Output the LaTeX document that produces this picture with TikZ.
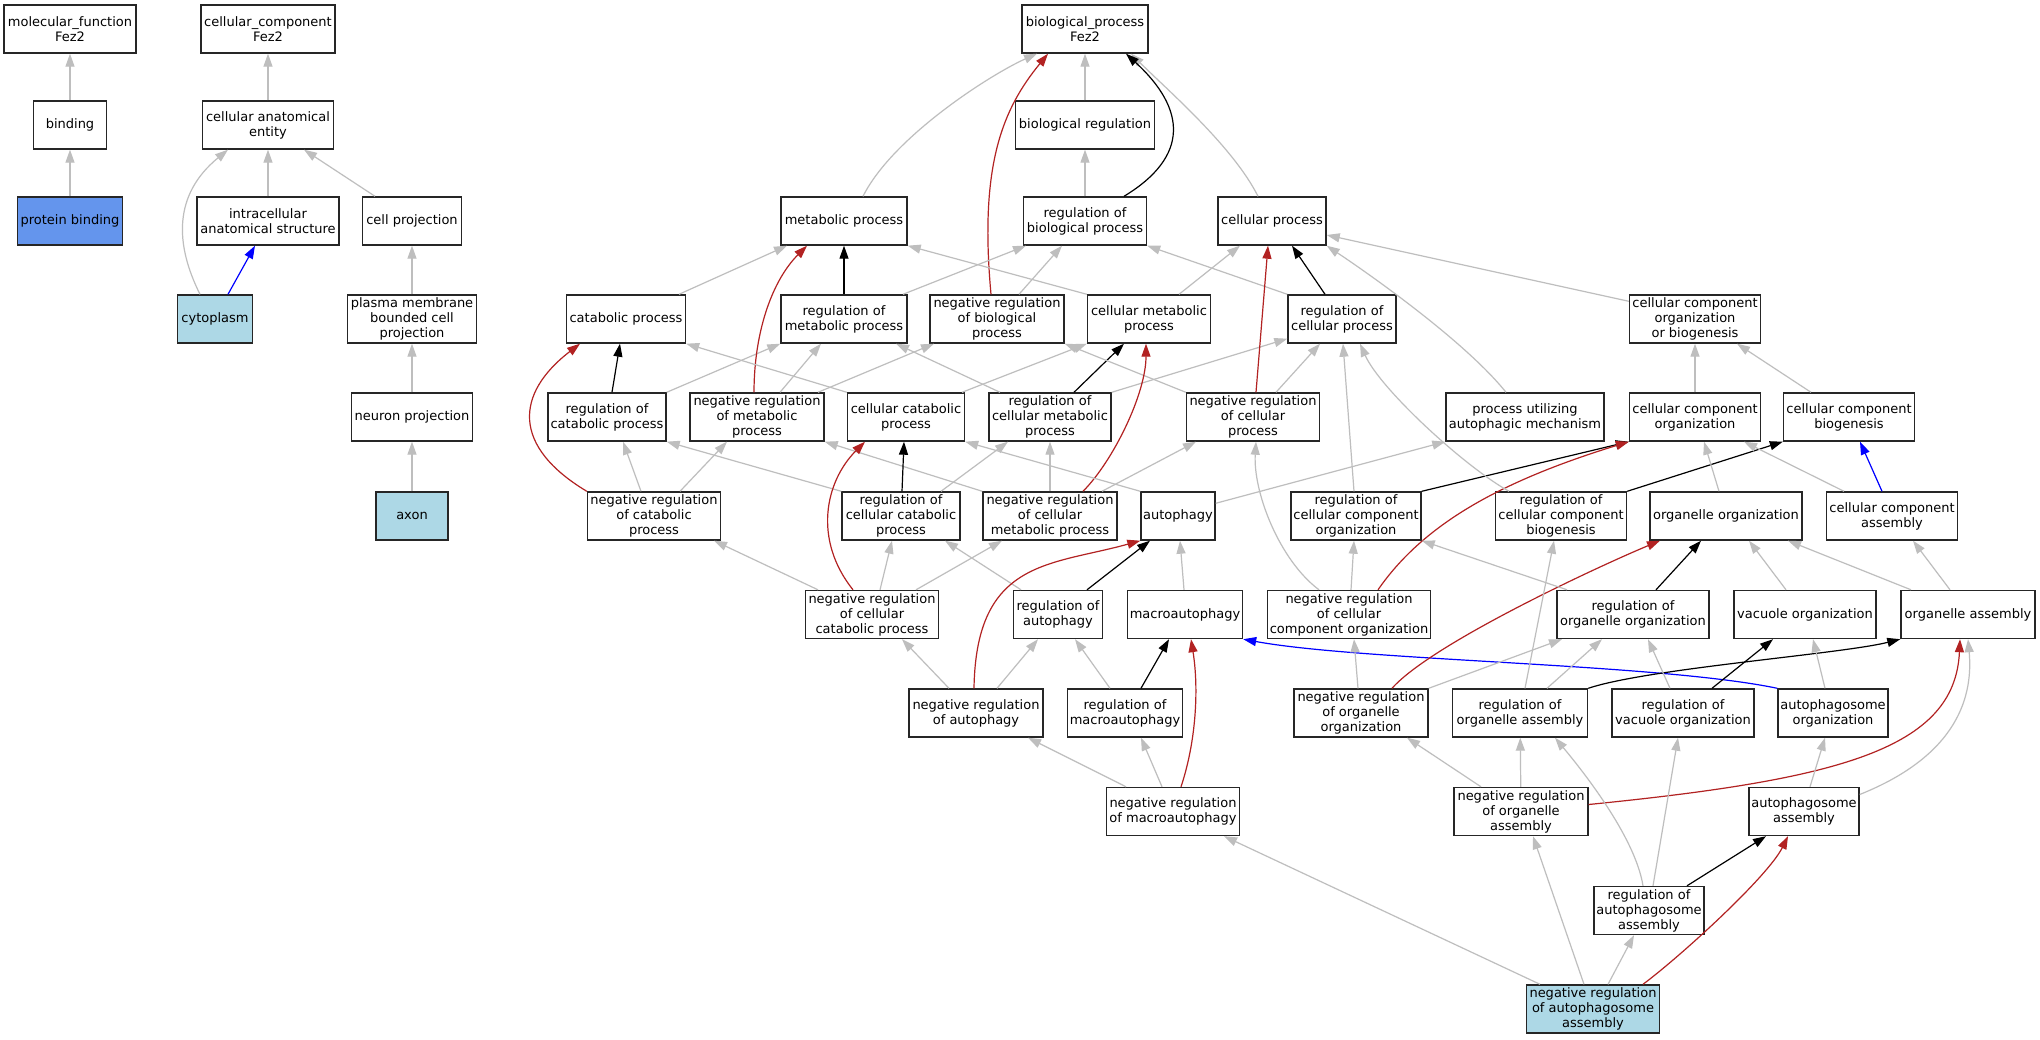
\documentclass[tikz,border=0pt]{standalone}
\usepackage{fontspec}
\setmainfont{DejaVu Sans}
\usetikzlibrary{arrows.meta}
\definecolor{hitblue}{HTML}{ADD8E6}
\definecolor{pbblue}{HTML}{6495ED}
\definecolor{isagray}{HTML}{BEBEBE}
\definecolor{negred}{HTML}{B22222}
\begin{document}
\begin{tikzpicture}[x=1pt, y=-1pt,
    term/.style={draw=black!85, line width=1.4pt, fill=white, rectangle, align=center, minimum height=48pt, inner xsep=2pt, inner ysep=1pt, font=\fontsize{13}{15}\selectfont},
    hit/.style={term, fill=hitblue},
    link/.style={line width=1.2pt, -{Triangle[length=13pt,width=9pt]}},
    isa/.style={link, isagray},
    reg/.style={link, black},
    negreg/.style={link, negred},
    partof/.style={link, blue}]
  \fill[white] (0,0) rectangle (2040,1040);

  % molecular function and cellular component
  \node[term, minimum width=132pt] (mf) at (70,29) {molecular\_function\\Fez2};
  \node[term, minimum width=73pt] (bind) at (70,125) {binding};
  \node[term, fill=pbblue, minimum width=105pt] (pb) at (70,221) {protein binding};
  \node[term, minimum width=134pt] (cc) at (268,29) {cellular\_component\\Fez2};
  \node[term, minimum width=131pt] (cae) at (268,125) {cellular anatomical\\entity};
  \node[term, minimum width=142pt] (ias) at (268,221) {intracellular\\anatomical structure};
  \node[term, minimum width=99pt] (cproj) at (412,221) {cell projection};
  \node[hit, minimum width=75pt] (cyto) at (215,319) {cytoplasm};
  \node[term, minimum width=129pt] (pmbcp) at (412,319) {plasma membrane\\bounded cell\\projection};
  \node[term, minimum width=121pt] (np) at (412,417) {neuron projection};
  \node[hit, minimum width=72pt] (axon) at (412,516) {axon};

  % biological process
  \node[term, minimum width=126pt] (bp) at (1085,29) {biological\_process\\Fez2};
  \node[term, minimum width=139pt] (br) at (1085,125) {biological regulation};
  \node[term, minimum width=126pt] (mp) at (844,221) {metabolic process};
  \node[term, minimum width=123pt] (rbp) at (1085,221) {regulation of\\biological process};
  \node[term, minimum width=108pt] (cp) at (1272,221) {cellular process};
  \node[term, minimum width=119pt] (catp) at (626,319) {catabolic process};
  \node[term, minimum width=126pt] (rmp) at (844,319) {regulation of\\metabolic process};
  \node[term, minimum width=134pt] (nrbp) at (997,319) {negative regulation\\of biological\\process};
  \node[term, minimum width=123pt] (cmp) at (1149,319) {cellular metabolic\\process};
  \node[term, minimum width=108pt] (rcp) at (1342,319) {regulation of\\cellular process};
  \node[term, minimum width=131pt] (ccob) at (1695,319) {cellular component\\organization\\or biogenesis};
  \node[term, minimum width=118pt] (rcatp) at (607,417) {regulation of\\catabolic process};
  \node[term, minimum width=134pt] (nrmp) at (757,417) {negative regulation\\of metabolic\\process};
  \node[term, minimum width=117pt] (ccp) at (906,417) {cellular catabolic\\process};
  \node[term, minimum width=122pt] (rcmp) at (1050,417) {regulation of\\cellular metabolic\\process};
  \node[term, minimum width=133pt] (nrcp) at (1253,417) {negative regulation\\of cellular\\process};
  \node[term, minimum width=158pt] (puam) at (1525,417) {process utilizing\\autophagic mechanism};
  \node[term, minimum width=131pt] (cco) at (1695,417) {cellular component\\organization};
  \node[term, minimum width=131pt] (ccb) at (1849,417) {cellular component\\biogenesis};
  \node[term, minimum width=133pt] (nrcatp) at (654,516) {negative regulation\\of catabolic\\process};
  \node[term, minimum width=118pt] (rccp) at (901,516) {regulation of\\cellular catabolic\\process};
  \node[term, minimum width=134pt] (nrcmp) at (1050,516) {negative regulation\\of cellular\\metabolic process};
  \node[term, minimum width=74pt] (auto) at (1178,516) {autophagy};
  \node[term, minimum width=130pt] (rcco) at (1356,516) {regulation of\\cellular component\\organization};
  \node[term, minimum width=131pt] (rccb) at (1561,516) {regulation of\\cellular component\\biogenesis};
  \node[term, minimum width=152pt] (oo) at (1726,516) {organelle organization};
  \node[term, minimum width=131pt] (cca) at (1892,516) {cellular component\\assembly};
  \node[term, minimum width=133pt] (nrccp) at (872,614.5) {negative regulation\\of cellular\\catabolic process};
  \node[term, minimum width=89pt] (ra) at (1058,614.5) {regulation of\\autophagy};
  \node[term, minimum width=115pt] (macro) at (1185,614.5) {macroautophagy};
  \node[term, minimum width=163pt] (nrcco) at (1349,614.5) {negative regulation\\of cellular\\component organization};
  \node[term, minimum width=152pt] (roo) at (1633,614.5) {regulation of\\organelle organization};
  \node[term, minimum width=142pt] (vo) at (1805,614.5) {vacuole organization};
  \node[term, minimum width=134pt] (oa) at (1968,614.5) {organelle assembly};
  \node[term, minimum width=134pt] (nra) at (976,713) {negative regulation\\of autophagy};
  \node[term, minimum width=115pt] (rm) at (1125,713) {regulation of\\macroautophagy};
  \node[term, minimum width=134pt] (nroo) at (1361,713) {negative regulation\\of organelle\\organization};
  \node[term, minimum width=135pt] (roa) at (1520,713) {regulation of\\organelle assembly};
  \node[term, minimum width=142pt] (rvo) at (1683,713) {regulation of\\vacuole organization};
  \node[term, minimum width=110pt] (ao) at (1833,713) {autophagosome\\organization};
  \node[term, minimum width=133pt] (nrm) at (1173,811.5) {negative regulation\\of macroautophagy};
  \node[term, minimum width=134pt] (nroa) at (1521,811.5) {negative regulation\\of organelle\\assembly};
  \node[term, minimum width=110pt] (aa) at (1804,811.5) {autophagosome\\assembly};
  \node[term, minimum width=110pt] (raa) at (1649,910.5) {regulation of\\autophagosome\\assembly};
  \node[hit, minimum width=133pt] (nraa) at (1593,1009) {negative regulation\\of autophagosome\\assembly};

  % left trees
  \draw[isa] (bind) -- (mf);
  \draw[isa] (pb) -- (bind);
  \draw[isa] (cae) -- (cc);
  \draw[isa] (ias) -- (cae);
  \draw[isa] ([xshift=-37pt]cproj.north) -- ([xshift=36pt]cae.south);
  \draw[isa] ([xshift=-15pt]cyto.north) .. controls +(-25,-50) and +(-55,45) .. ([xshift=-40pt]cae.south);
  \draw[partof] ([xshift=13pt]cyto.north) -- ([xshift=-13pt]ias.south);
  \draw[isa] (pmbcp) -- (cproj);
  \draw[isa] (np) -- (pmbcp);
  \draw[isa] (axon) -- (np);

  % biological process tree
  \draw[isa] (br) -- (bp);
  \draw[isa] (rbp) -- (br);
  \draw[isa] ([xshift=19pt]mp.north) .. controls +(30,-60) and +(-45,20) .. ([xshift=-48pt]bp.south);
  \draw[isa] ([xshift=-14pt]cp.north) .. controls +(-25,-50) and +(35,35) .. ([xshift=46pt]bp.south);
  \draw[reg] ([xshift=39pt]rbp.north) .. controls +(66,-40) and +(60,55) .. ([xshift=41pt]bp.south);
  \draw[negreg] ([xshift=-6pt]nrbp.north) .. controls +(-12,-130) and +(-45,55) .. ([xshift=-37pt]bp.south);
  \draw[reg] (rmp) -- (mp);
  \draw[isa] ([xshift=59pt]rmp.north) -- ([xshift=-59pt]rbp.south);
  \draw[isa] ([xshift=22pt]nrbp.north) -- ([xshift=-23pt]rbp.south);
  \draw[isa] (cmp.north west) -- (mp.south east);
  \draw[isa] ([xshift=30pt]cmp.north) -- ([xshift=-32pt]cp.south);
  \draw[reg] ([xshift=-17pt]rcp.north) -- ([xshift=20pt]cp.south);
  \draw[isa] (rcp.north west) -- (rbp.south east);
  \draw[isa] ([yshift=-7pt]ccob.north west) -- ([yshift=-14pt]cp.east);
  \draw[isa] ([xshift=-19pt]puam.north) .. controls +(-40,-50) and +(45,30) .. (cp.south east);
  \draw[isa] ([xshift=53pt]catp.north) -- ([xshift=-57pt]mp.south);
  \draw[reg] ([xshift=5pt]rcatp.north) -- ([xshift=-6pt]catp.south);
  \draw[isa] (rcatp.north east) -- (rmp.south west);
  \draw[negreg] ([xshift=-3pt]nrmp.north) .. controls +(0,-60) and +(-35,35) .. ([xshift=-37pt]mp.south);
  \draw[isa] ([xshift=23pt]nrmp.north) -- ([xshift=-23pt]rmp.south);
  \draw[isa] ([xshift=61pt]nrmp.north) -- ([xshift=-63pt]nrbp.south);
  \draw[isa] (ccp.north west) -- (catp.south east);
  \draw[isa] ([xshift=56pt]ccp.north) -- (cmp.south west);
  \draw[isa] ([xshift=-50pt]rcmp.north) -- ([xshift=52pt]rmp.south);
  \draw[reg] ([xshift=24pt]rcmp.north) -- ([xshift=-25pt]cmp.south);
  \draw[isa] (rcmp.north east) -- ([yshift=5pt]rcp.south west);
  \draw[isa] (nrcp.north west) -- (nrbp.south east);
  \draw[negreg] ([xshift=3pt]nrcp.north) -- ([xshift=-4pt]cp.south);
  \draw[isa] ([xshift=23pt]nrcp.north) -- ([xshift=-22pt]rcp.south);
  \draw[isa] (cco) -- (ccob);
  \draw[isa] ([xshift=-38pt]ccb.north) -- ([xshift=42pt]ccob.south);
  \draw[isa] ([xshift=-13pt]nrcatp.north) -- ([xshift=16pt]rcatp.south);
  \draw[negreg] (nrcatp.north west) .. controls +(-75,-45) and +(-65,50) .. ([xshift=-46pt]catp.south);
  \draw[isa] ([xshift=26pt]nrcatp.north) -- ([xshift=-30pt]nrmp.south);
  \draw[isa] (rccp.north west) -- (rcatp.south east);
  \draw[isa] (nrcmp.north west) -- (nrmp.south east);
  \draw[isa] (nrcmp) -- (rcmp);
  \draw[negreg] ([xshift=33pt]nrcmp.north) .. controls +(30,-30) and +(0,50) .. ([xshift=-3pt]cmp.south);
  \draw[isa] ([xshift=52pt]nrcmp.north) -- ([xshift=-57pt]nrcp.south);
  \draw[isa] (auto.north west) -- (ccp.south east);
  \draw[isa] ([yshift=-12pt]auto.north east) -- (puam.south west);
  \draw[reg] ([xshift=1pt]rccp.north) -- ([xshift=-2pt]ccp.south);
  \draw[isa] ([xshift=40pt]rccp.north) -- ([xshift=-42pt]rcmp.south);
  \draw[negreg] ([xshift=-19pt]nrccp.north) .. controls +(-40,-50) and +(-40,40) .. ([xshift=-41pt]ccp.south);
  \draw[isa] ([xshift=-54pt]nrccp.north) -- ([xshift=60pt]nrcatp.south);
  \draw[isa] ([xshift=8pt]nrccp.north) -- ([xshift=-9pt]rccp.south);
  \draw[isa] ([xshift=44pt]nrccp.north) -- ([xshift=-48pt]nrcmp.south);
  \draw[isa] ([xshift=-37pt]ra.north) -- ([xshift=44pt]rccp.south);
  \draw[reg] ([xshift=29pt]ra.north) -- ([xshift=-28pt]auto.south);
  \draw[isa] ([xshift=-1pt]macro.north) -- ([xshift=2pt]auto.south);
  \draw[isa] ([xshift=-27pt]nra.north) -- ([xshift=30pt]nrccp.south);
  \draw[isa] ([xshift=21pt]nra.north) -- ([xshift=-20pt]ra.south);
  \draw[negreg] ([xshift=-2pt]nra.north) .. controls +(2,-129) and +(-90,25) .. (auto.south west);
  \draw[isa] ([xshift=-15pt]rm.north) -- ([xshift=17pt]ra.south);
  \draw[reg] ([xshift=16pt]rm.north) -- ([xshift=-16pt]macro.south);
  \draw[isa] ([xshift=-47pt]nrm.north) -- ([xshift=52pt]nra.south);
  \draw[isa] ([xshift=-11pt]nrm.north) -- ([xshift=16pt]rm.south);
  \draw[negreg] ([xshift=8pt]nrm.north) .. controls +(15,-45) and +(8,50) .. ([xshift=6pt]macro.south);
  \draw[partof] (ao.north west) .. controls +(-120,-25) and +(120,22) .. (macro.south east);
  \draw[isa] ([xshift=-53pt]nraa.north) -- ([xshift=51pt]nrm.south);

  % organization branch
  \draw[reg] (rcco.north east) -- (cco.south west);
  \draw[negreg] ([xshift=29pt]nrcco.north) .. controls +(45,-65) and +(-130,40) .. (cco.south west);
  \draw[reg] (rccb.north east) -- (ccb.south west);
  \draw[isa] ([xshift=-7pt]oo.north) -- ([xshift=9pt]cco.south);
  \draw[isa] ([xshift=-48pt]cca.north) -- ([xshift=49pt]cco.south);
  \draw[partof] ([xshift=-10pt]cca.north) -- ([xshift=11pt]ccb.south);
  \draw[isa] ([xshift=-2pt]rcco.north) -- ([xshift=1pt]rcp.south);
  \draw[isa] ([xshift=-52pt]rccb.north) .. controls +(-45,-25) and +(20,45) .. ([xshift=18pt]rcp.south);
  \draw[isa] ([xshift=-30pt]nrcco.north) .. controls +(-40,-30) and +(-3,50) .. ([xshift=3pt]nrcp.south);
  \draw[isa] ([xshift=2pt]nrcco.north) -- ([xshift=-2pt]rcco.south);
  \draw[isa] ([xshift=-3pt]nroo.north) -- ([xshift=5pt]nrcco.south);
  \draw[negreg] ([xshift=31pt]nroo.north) .. controls +(40,-45) and +(-60,25) .. ([xshift=-66pt]oo.south);
  \draw[isa] ([xshift=-66pt]roo.north) -- (rcco.south east);
  \draw[reg] ([xshift=23pt]roo.north) -- ([xshift=-25pt]oo.south);
  \draw[isa] ([xshift=-19pt]vo.north) -- ([xshift=23pt]oo.south);
  \draw[isa] ([xshift=-57pt]oa.north) -- ([xshift=62pt]oo.south);
  \draw[isa] ([xshift=-18pt]oa.north) -- ([xshift=21pt]cca.south);
  \draw[isa] (nroo.north east) -- ([xshift=-71pt]roo.south);
  \draw[isa] ([xshift=27pt]roa.north) -- ([xshift=-31pt]roo.south);
  \draw[isa] ([xshift=5pt]roa.north) -- ([xshift=-7pt]rccb.south);
  \draw[reg] (roa.north east) .. controls +(60,-20) and +(-60,15) .. (oa.south west);
  \draw[reg] ([xshift=29pt]rvo.north) -- ([xshift=-32pt]vo.south);
  \draw[isa] ([xshift=-13pt]rvo.north) -- ([xshift=15pt]roo.south);
  \draw[isa] ([xshift=-8pt]ao.north) -- ([xshift=8pt]vo.south);
  \draw[isa] ([xshift=-40pt]nroa.north) -- ([xshift=46pt]nroo.south);
  \draw[isa] (nroa) -- (roa);
  \draw[negreg] ([yshift=7pt]nroa.east) .. controls +(250,-25) and +(-5,110) .. ([xshift=-8pt]oa.south);
  \draw[isa] ([xshift=6pt]aa.north) -- ([xshift=-8pt]ao.south);
  \draw[isa] ([yshift=17pt]aa.east) .. controls +(100,-40) and +(5,55) .. (oa.south);
  \draw[reg] ([xshift=38pt]raa.north) -- ([xshift=-38pt]aa.south);
  \draw[isa] ([xshift=-6pt]raa.north) .. controls +(-8,-50) and +(25,30) .. ([xshift=35pt]roa.south);
  \draw[isa] ([xshift=4pt]raa.north) -- ([xshift=-5pt]rvo.south);
  \draw[isa] ([xshift=15pt]nraa.north) -- ([xshift=-15pt]raa.south);
  \draw[negreg] ([xshift=50pt]nraa.north) .. controls +(40,-30) and +(-20,40) .. ([xshift=-16pt]aa.south);
  \draw[isa] ([xshift=-9pt]nraa.north) -- ([xshift=12pt]nroa.south);
\end{tikzpicture}
\end{document}
